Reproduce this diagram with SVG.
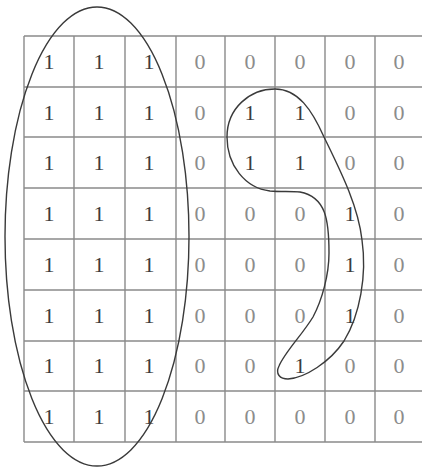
<svg xmlns="http://www.w3.org/2000/svg" width="422" height="468" viewBox="0 0 422 468">
<style>
.g{stroke:#8a8a8a;stroke-width:1.4;fill:none}
.t{font-family:"Liberation Serif","Times New Roman",serif;font-size:22px;text-anchor:middle}
.one{fill:#3c3c3c}
.zero{fill:#8c8c8c}
.c{stroke:#3a3a3a;stroke-width:1.4;fill:none}
</style>
<rect width="422" height="468" fill="#ffffff"/>
<g id="grid" class="g">
<path d="M24 36H422M24 87H422M24 137H422M24 188H422M24 239H422M24 290H422M24 341H422M24 391H422M24 442H422"/>
<path d="M24 36V442M74 36V442M125 36V442M176 36V442M225 36V442M275 36V442M325 36V442M375 36V442"/>
</g>
<g id="cells" class="t">
<g class="one"><text x="49" y="69">1</text><text x="99" y="69">1</text><text x="149" y="69">1</text></g>
<g class="zero"><text x="200" y="69">0</text><text x="250" y="69">0</text><text x="300" y="69">0</text><text x="350" y="69">0</text><text x="399" y="69">0</text></g>
<g class="one"><text x="49" y="120">1</text><text x="99" y="120">1</text><text x="149" y="120">1</text><text x="250" y="120">1</text><text x="300" y="120">1</text></g>
<g class="zero"><text x="200" y="120">0</text><text x="350" y="120">0</text><text x="399" y="120">0</text></g>
<g class="one"><text x="49" y="170">1</text><text x="99" y="170">1</text><text x="149" y="170">1</text><text x="250" y="170">1</text><text x="300" y="170">1</text></g>
<g class="zero"><text x="200" y="170">0</text><text x="350" y="170">0</text><text x="399" y="170">0</text></g>
<g class="one"><text x="49" y="221">1</text><text x="99" y="221">1</text><text x="149" y="221">1</text><text x="350" y="221">1</text></g>
<g class="zero"><text x="200" y="221">0</text><text x="250" y="221">0</text><text x="300" y="221">0</text><text x="399" y="221">0</text></g>
<g class="one"><text x="49" y="272">1</text><text x="99" y="272">1</text><text x="149" y="272">1</text><text x="350" y="272">1</text></g>
<g class="zero"><text x="200" y="272">0</text><text x="250" y="272">0</text><text x="300" y="272">0</text><text x="399" y="272">0</text></g>
<g class="one"><text x="49" y="323">1</text><text x="99" y="323">1</text><text x="149" y="323">1</text><text x="350" y="323">1</text></g>
<g class="zero"><text x="200" y="323">0</text><text x="250" y="323">0</text><text x="300" y="323">0</text><text x="399" y="323">0</text></g>
<g class="one"><text x="49" y="373">1</text><text x="99" y="373">1</text><text x="149" y="373">1</text><text x="300" y="373">1</text></g>
<g class="zero"><text x="200" y="373">0</text><text x="250" y="373">0</text><text x="350" y="373">0</text><text x="399" y="373">0</text></g>
<g class="one"><text x="49" y="424">1</text><text x="99" y="424">1</text><text x="149" y="424">1</text></g>
<g class="zero"><text x="200" y="424">0</text><text x="250" y="424">0</text><text x="300" y="424">0</text><text x="350" y="424">0</text><text x="399" y="424">0</text></g>
</g>
<g id="region1"><ellipse class="c" cx="97" cy="236.5" rx="92" ry="229.5"/></g>
<g id="region2"><path class="c" d="M288 379C280 379 275 374 279 366C285 352 302 335 313 317C322 300 329 275 329 253C329 220 326 197 300 192C290 191 282 192 270 191C245 188 227 165 227 137C227 108 250 89 275 89C298 89 312 110 324 137C340 170 358 205 362 240C367 275 360 315 344 341C330 362 305 378 288 379Z"/></g>
</svg>
